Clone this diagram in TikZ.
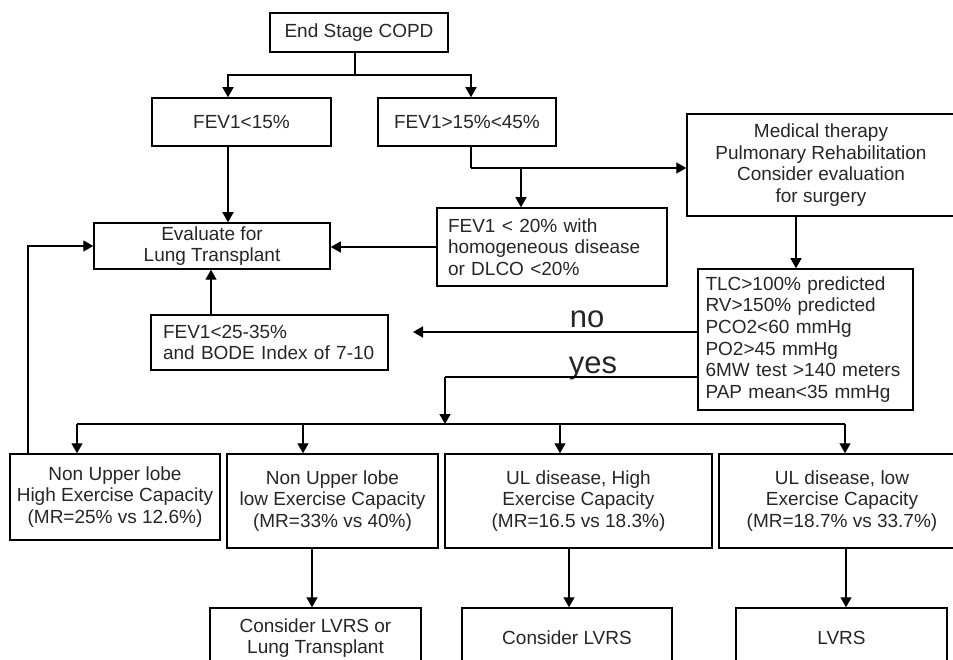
\documentclass[tikz,border=0pt]{standalone}
\usepackage{fontspec}
\setmainfont{Liberation Sans}
\usetikzlibrary{arrows.meta}
\newcommand\boxfont{\fontsize{19}{21.7}\selectfont}
\newcommand\bigfont{\fontsize{31}{36}\selectfont}
\begin{document}
\begin{tikzpicture}[x=1pt,y=-1pt,
  box/.style={draw, line width=1.5pt, inner sep=0pt, align=center, font=\boxfont, text=black!85},
  lbox/.style={draw, line width=1.5pt, inner ysep=0pt, align=left, font=\boxfont, text=black!85},
  line/.style={line width=1.4pt},
  arr/.style={line width=1.4pt, -{Triangle[length=10pt,width=11pt]}},
  lab/.style={font=\bigfont, anchor=base, inner sep=0pt, text=black!85}]
\useasboundingbox (0,0) rectangle (953,660);
\clip (0,0) rectangle (953,660);
% nodes
\node[box, minimum width=178pt, minimum height=39pt] (copd) at (359,32.5) {End Stage COPD};
\node[box, minimum width=179pt, minimum height=48pt] (f15) at (241.5,122) {FEV1<15\%};
\node[box, minimum width=178pt, minimum height=48pt] (f1545) at (467,122) {FEV1>15\%<45\%};
\node[box, minimum width=268pt, minimum height=102pt] (med) at (821,165) {Medical therapy\\Pulmonary Rehabilitation\\Consider evaluation\\for surgery};
\node[lbox, inner xsep=11pt, text width=208pt, minimum height=78pt] (f20) at (552,247) {FEV1 < 20\% with\\homogeneous disease\\or DLCO <20\%};
\node[box, minimum width=236pt, minimum height=46pt] (eval) at (212,246) {Evaluate for\\Lung Transplant};
\node[lbox, inner xsep=12pt, text width=213pt, minimum height=55pt] (bode) at (269.5,342.5) {FEV1<25-35\%\\and BODE Index of 7-10};
\node[lbox, inner xsep=7.5pt, text width=200pt, minimum height=141pt] (tlc) at (805.5,339.5) {TLC>100\% predicted\\RV>150\% predicted\\PCO2<60 mmHg\\PO2>45 mmHg\\6MW test >140 meters\\PAP mean<35 mmHg};
\node[box, minimum width=210pt, minimum height=86pt] (b1) at (115,497) {Non Upper lobe\\High Exercise Capacity\\(MR=25\% vs 12.6\%)};
\node[box, minimum width=211pt, minimum height=94pt] (b2) at (332.5,501) {Non Upper lobe\\low Exercise Capacity\\(MR=33\% vs 40\%)};
\node[box, minimum width=267pt, minimum height=94pt] (b3) at (578.5,501) {UL disease, High\\Exercise Capacity\\(MR=16.5 vs 18.3\%)};
\node[box, minimum width=246pt, minimum height=94pt] (b4) at (842,501) {UL disease, low\\Exercise Capacity\\(MR=18.7\% vs 33.7\%)};
\node[box, minimum width=211pt, minimum height=60pt] (c1) at (315.5,638) {Consider LVRS or\\Lung Transplant};
\node[box, minimum width=210pt, minimum height=60pt] (c2) at (567,638) {Consider LVRS};
\node[box, minimum width=211pt, minimum height=60pt] (c3) at (841.5,638) {LVRS};
% labels
\node[lab] (no) at (587,327) {no};
\node[lab] (yes) at (593,373) {yes};
% coordinates
\coordinate (j1) at (355,75);
\coordinate (j2) at (471,168);
\coordinate (noend) at (413,332);
\coordinate (yesc) at (445,377);
\coordinate (busL) at (77,424);
\coordinate (busR) at (845,424);
% connectors
\draw[line] ([xshift=-4pt]copd.south) -- (j1);
\draw[arr] (j1) -| ([xshift=-13.5pt]f15.north);
\draw[arr] (j1) -| ([xshift=4pt]f1545.north);
\draw[arr] ([xshift=-13.5pt]f15.south) -- ([xshift=16pt]eval.north);
\draw[line] ([xshift=4pt]f1545.south) -- (j2);
\draw[arr] (j2) -- (j2 -| med.west);
\draw[arr] ([xshift=-31pt]f20.north |- j2) -- ([xshift=-31pt]f20.north);
\draw[arr] (f20.west) -- (f20.west -| eval.east);
\draw[arr] ([xshift=-25pt]med.south) -- ([xshift=-25pt]med.south |- tlc.north);
\draw[arr] ([yshift=7.5pt]tlc.west) -- (noend);
\draw[line] ([yshift=-37.5pt]tlc.west) -- (yesc);
\draw[arr] (yesc) -- (yesc |- busL);
\draw[line] (busL) -- (busR);
\draw[arr] (busL) -- (busL |- b1.north);
\draw[arr] ([xshift=-29.5pt]b2.north |- busL) -- ([xshift=-29.5pt]b2.north);
\draw[arr] ([xshift=-18.5pt]b3.north |- busL) -- ([xshift=-18.5pt]b3.north);
\draw[arr] (busR) -- (busR |- b4.north);
\draw[arr] ([xshift=-87pt]b1.north) |- (eval.west);
\draw[arr] ([xshift=-58.5pt]bode.north) -- ([xshift=-1pt]eval.south);
\draw[arr] ([xshift=-20.5pt]b2.south) -- ([xshift=-20.5pt]b2.south |- c1.north);
\draw[arr] ([xshift=-9.5pt]b3.south) -- ([xshift=-9.5pt]b3.south |- c2.north);
\draw[arr] ([xshift=4pt]b4.south) -- ([xshift=4pt]b4.south |- c3.north);
\end{tikzpicture}
\end{document}
